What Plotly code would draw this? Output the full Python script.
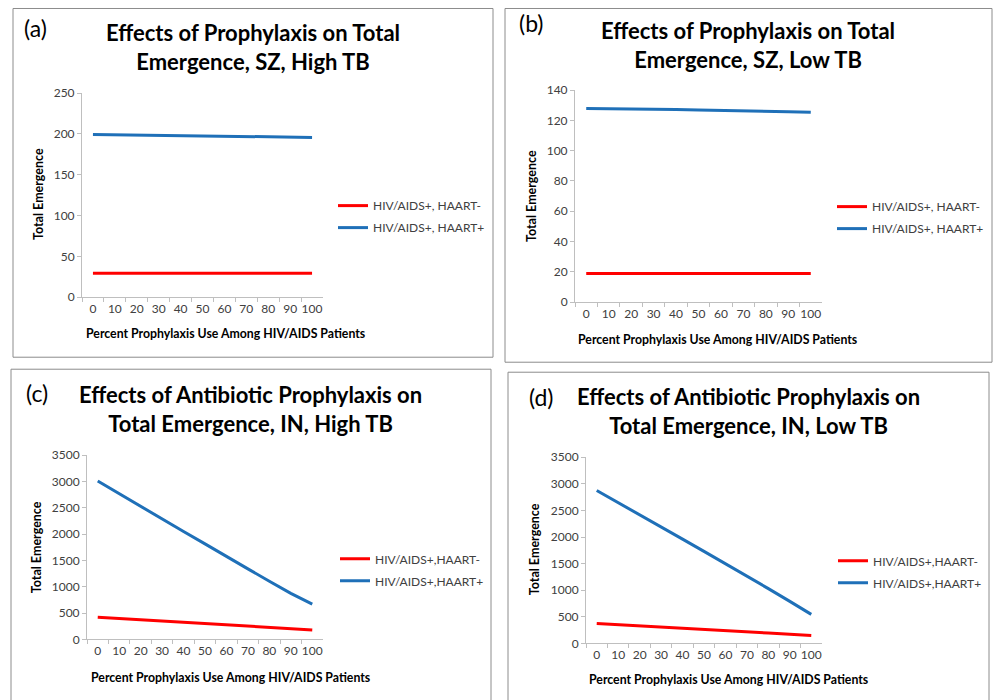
import plotly.graph_objects as go

# ---------------- data ----------------
x_cats = ["0", "10", "20", "30", "40", "50", "60", "70", "80", "90", "100"]

a_red = [29.2, 29.2, 29.2, 29.2, 29.2, 29.2, 29.2, 29.2, 29.2, 29.2, 29.2]
a_blue = [199.3, 198.9, 198.6, 198.2, 197.9, 197.5, 197.1, 196.8, 196.4, 196.1, 195.7]

b_red = [18.9, 18.9, 18.9, 18.9, 18.9, 18.9, 18.9, 18.9, 18.9, 18.9, 18.9]
b_blue = [127.9, 127.8, 127.5, 127.4, 127.1, 126.8, 126.6, 126.3, 126.0, 125.7, 125.3]

c_red = [420, 396, 372, 348, 324, 300, 276, 252, 228, 204, 180]
c_blue = [3010, 2770, 2515, 2280, 2050, 1815, 1570, 1340, 1105, 875, 670]

d_red = [376, 355, 333, 310, 286, 263, 240, 217, 195, 172, 150]
d_blue = [2875, 2650, 2410, 2190, 1960, 1730, 1500, 1270, 1030, 790, 545]

titles = [
    "Effects of Prophylaxis on Total<br>Emergence, SZ, High TB",
    "Effects of Prophylaxis on Total<br>Emergence, SZ, Low TB",
    "Effects of Antibiotic Prophylaxis on<br>Total Emergence, IN, High TB",
    "Effects of Antibiotic Prophylaxis on<br>Total Emergence, IN, Low TB",
]
panel_labels = ["(a)", "(b)", "(c)", "(d)"]
legend_names = [
    ("HIV/AIDS+, HAART-", "HIV/AIDS+, HAART+"),
    ("HIV/AIDS+, HAART-", "HIV/AIDS+, HAART+"),
    ("HIV/AIDS+,HAART-", "HIV/AIDS+,HAART+"),
    ("HIV/AIDS+,HAART-", "HIV/AIDS+,HAART+"),
]
y_ranges = [(0, 250, 50), (0, 140, 20), (0, 3500, 500), (0, 3500, 500)]
y_title = "Total Emergence"
x_title = "Percent Prophylaxis Use Among HIV/AIDS Patients"

series = [(a_red, a_blue), (b_red, b_blue), (c_red, c_blue), (d_red, d_blue)]

# ---------------- layout (pixel geometry) ----------------
W, H = 993, 700
def px(x):
    return x / W
def py(y):
    # vertical calibration for the page capture
    ys = (y - 8.0) / 0.978
    ys = max(ys, 0.5)
    return 1 - ys / H

plot_boxes = [  # left, right, top, bottom in pixels
    (82, 323, 93, 297),
    (575, 822, 90, 302),
    (87, 323, 455, 639),
    (586, 822, 457, 643),
]
frames = [(13, 7, 493, 357), (505, 5, 992, 362), (11, 369, 491, 716), (508, 372, 989, 716)]
title_pos = [(253, 47), (748, 45), (250, 409), (748, 411)]
label_pos = [(35, 28), (531, 23), (37, 393), (541, 397)]
ytitle_pos = [(38, 194), (531, 196), (36, 547), (534, 549)]
xtitle_pos = [(226, 333), (718, 339), (231, 677), (729, 679)]
legend_pos = [(333, 191), (832, 192), (335, 544), (833, 546)]

RED = "#FF0000"
BLUE = "#1F70B8"
AXIS = "#BFBFBF"
TXT = "#404040"
FONT = "Lato"

fig = go.Figure()
layout = dict(
    width=W, height=H, margin=dict(l=0, r=0, t=0, b=0),
    paper_bgcolor="white", plot_bgcolor="white",
    font=dict(family=FONT, color=TXT, size=12),
    showlegend=True,
)
annotations = []
shapes = []

for i in range(4):
    n = "" if i == 0 else str(i + 1)
    xa, ya = "x" + n, "y" + n
    lg = "legend" + n
    red, blue = series[i]
    names = legend_names[i]
    fig.add_trace(go.Scatter(x=x_cats, y=red, mode="lines", name=names[0],
                             line=dict(color=RED, width=3), xaxis=xa, yaxis=ya,
                             legend=lg, legendgroup=f"r{i}"))
    fig.add_trace(go.Scatter(x=x_cats, y=blue, mode="lines", name=names[1],
                             line=dict(color=BLUE, width=3), xaxis=xa, yaxis=ya,
                             legend=lg, legendgroup=f"b{i}"))
    l, r, t, b = plot_boxes[i]
    y0, y1, dy = y_ranges[i]
    layout["xaxis" + n] = dict(
        domain=[px(l), px(r)], anchor=ya, type="category", range=[-0.5, 10.5],
        tickson="boundaries", ticks="outside", ticklen=4, tickcolor=AXIS,
        tickangle=0,
        showline=True, linecolor=AXIS, linewidth=1, showgrid=False, zeroline=False,
        tickfont=dict(size=12, color=TXT, family=FONT), fixedrange=True,
    )
    layout["yaxis" + n] = dict(
        domain=[py(b), py(t)], anchor=xa, range=[y0, y1], dtick=dy, tick0=0,
        ticks="outside", ticklen=4, tickcolor=AXIS, showline=True, linecolor=AXIS,
        linewidth=1, showgrid=False, zeroline=False,
        tickfont=dict(size=12, color=TXT, family=FONT), fixedrange=True,
    )
    lx, ly = legend_pos[i]
    layout[lg] = dict(x=px(lx), y=py(ly), xanchor="left", yanchor="top",
                      xref="paper", yref="paper", bgcolor="rgba(0,0,0,0)",
                      font=dict(size=12, color=TXT, family=FONT),
                      traceorder="grouped", tracegroupgap=3)
    fx0, fy0, fx1, fy1 = frames[i]
    shapes.append(dict(type="rect", xref="paper", yref="paper",
                       x0=px(fx0), x1=px(fx1), y0=py(fy0), y1=py(fy1),
                       line=dict(color="#8C8C8C", width=1), fillcolor="rgba(0,0,0,0)",
                       layer="below"))
    tx, ty = title_pos[i]
    annotations.append(dict(text="<b>" + titles[i] + "</b>", x=px(tx), y=py(ty),
                            xref="paper", yref="paper", showarrow=False,
                            xanchor="center", yanchor="middle", align="center",
                            font=dict(size=22, color="black", family=FONT)))
    lx2, ly2 = label_pos[i]
    annotations.append(dict(text=panel_labels[i], x=px(lx2), y=py(ly2),
                            xref="paper", yref="paper", showarrow=False,
                            xanchor="center", yanchor="middle",
                            font=dict(size=23, color="black", family=FONT)))
    yx, yy = ytitle_pos[i]
    annotations.append(dict(text="<b>" + y_title + "</b>", x=px(yx), y=py(yy),
                            xref="paper", yref="paper", showarrow=False, textangle=-90,
                            xanchor="center", yanchor="middle",
                            font=dict(size=12.5, color="black", family=FONT)))
    xx, xy = xtitle_pos[i]
    annotations.append(dict(text="<b>" + x_title + "</b>", x=px(xx), y=py(xy),
                            xref="paper", yref="paper", showarrow=False,
                            xanchor="center", yanchor="middle",
                            font=dict(size=12.3, color="black", family=FONT)))

layout["annotations"] = annotations
layout["shapes"] = shapes
fig.update_layout(**layout)
fig.write_html(
    "out.html",
    post_script="document.body.style.margin='0';document.body.style.overflow='hidden';",
)
